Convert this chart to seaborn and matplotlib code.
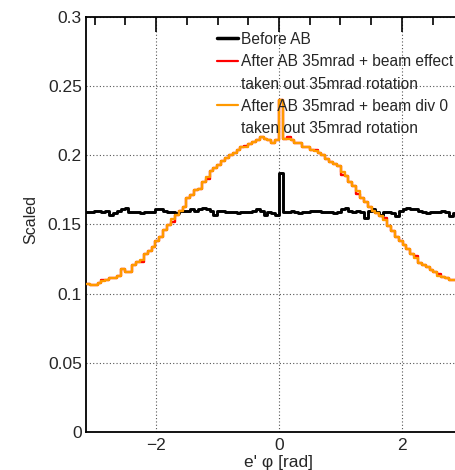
import numpy as np
import pandas as pd
import matplotlib
matplotlib.use("Agg")
import matplotlib.pyplot as plt
from matplotlib.lines import Line2D
from matplotlib.ticker import MultipleLocator, FuncFormatter
import seaborn as sns

# ---------------- data (100 bins from -pi to pi) ----------------
n_bins = 100
before_ab = [
    0.159, 0.159, 0.160, 0.160, 0.159, 0.160, 0.157, 0.158, 0.160, 0.161,
    0.162, 0.159, 0.159, 0.159, 0.158, 0.159, 0.159, 0.159, 0.161, 0.161,
    0.160, 0.159, 0.159, 0.158, 0.160, 0.160, 0.160, 0.161, 0.160, 0.161,
    0.162, 0.161, 0.160, 0.157, 0.160, 0.160, 0.159, 0.159, 0.159, 0.158,
    0.159, 0.159, 0.159, 0.160, 0.161, 0.160, 0.157, 0.159, 0.158, 0.157,
    0.187, 0.159, 0.159, 0.160, 0.159, 0.158, 0.159, 0.159, 0.160, 0.160,
    0.160, 0.159, 0.159, 0.159, 0.158, 0.159, 0.161, 0.162, 0.160, 0.159,
    0.160, 0.159, 0.155, 0.160, 0.161, 0.159, 0.157, 0.159, 0.159, 0.158,
    0.156, 0.160, 0.161, 0.162, 0.161, 0.161, 0.160, 0.159, 0.158, 0.159,
    0.159, 0.159, 0.160, 0.159, 0.156, 0.158, 0.159, 0.160, 0.158, 0.159,
]
after_beam_effect = [
    0.107, 0.106, 0.106, 0.108, 0.110, 0.110, 0.111, 0.111, 0.113, 0.118,
    0.116, 0.116, 0.121, 0.123, 0.123, 0.129, 0.131, 0.134, 0.138, 0.141,
    0.146, 0.150, 0.152, 0.157, 0.160, 0.163, 0.169, 0.171, 0.175, 0.176,
    0.181, 0.183, 0.189, 0.191, 0.193, 0.196, 0.198, 0.200, 0.202, 0.204,
    0.206, 0.207, 0.208, 0.210, 0.211, 0.213, 0.212, 0.211, 0.209, 0.211,
    0.240, 0.212, 0.213, 0.211, 0.209, 0.209, 0.206, 0.206, 0.204, 0.204,
    0.202, 0.200, 0.197, 0.195, 0.194, 0.192, 0.186, 0.185, 0.181, 0.178,
    0.172, 0.169, 0.166, 0.163, 0.160, 0.158, 0.156, 0.155, 0.149, 0.145,
    0.141, 0.138, 0.135, 0.132, 0.129, 0.127, 0.122, 0.121, 0.119, 0.117,
    0.116, 0.114, 0.112, 0.111, 0.110, 0.110, 0.109, 0.108, 0.108, 0.107,
]
after_beam_div0 = [
    0.107, 0.106, 0.106, 0.108, 0.109, 0.110, 0.111, 0.111, 0.113, 0.118,
    0.116, 0.116, 0.121, 0.123, 0.124, 0.129, 0.131, 0.134, 0.138, 0.141,
    0.146, 0.150, 0.154, 0.157, 0.160, 0.163, 0.169, 0.171, 0.175, 0.176,
    0.181, 0.184, 0.189, 0.191, 0.193, 0.196, 0.198, 0.200, 0.202, 0.204,
    0.206, 0.206, 0.208, 0.210, 0.211, 0.213, 0.212, 0.211, 0.209, 0.211,
    0.240, 0.212, 0.212, 0.211, 0.209, 0.209, 0.206, 0.206, 0.204, 0.203,
    0.202, 0.200, 0.197, 0.195, 0.194, 0.192, 0.188, 0.185, 0.181, 0.178,
    0.174, 0.169, 0.166, 0.163, 0.160, 0.158, 0.156, 0.153, 0.149, 0.145,
    0.141, 0.138, 0.135, 0.132, 0.129, 0.126, 0.122, 0.121, 0.119, 0.117,
    0.116, 0.113, 0.112, 0.111, 0.110, 0.110, 0.109, 0.108, 0.108, 0.107,
]
labels = [
    "Before AB",
    "After AB 35mrad + beam effect",
    "taken out 35mrad rotation",
    "After AB 35mrad + beam div 0",
    "taken out 35mrad rotation",
]
x_title = "e' \u03c6 [rad]"
y_title = "Scaled"

edges = list(np.linspace(-np.pi, np.pi, n_bins + 1))
centers = [0.5 * (edges[i] + edges[i + 1]) for i in range(n_bins)]
df = pd.DataFrame({
    "phi": np.tile(centers, 3),
    "w": np.concatenate([before_ab, after_beam_effect, after_beam_div0]),
    "series": np.repeat(["before", "effect", "div0"], n_bins),
})

# ---------------- style ----------------
sns.set_theme(style="white")
plt.rcParams["font.family"] = ["Liberation Sans", "DejaVu Sans"]

fig = plt.figure(figsize=(4.56, 4.70), dpi=100)
ax = fig.add_axes([86 / 456, 38 / 470, 386 / 456, 415 / 470])

c_black = "#000000"
c_red = "#ff0000"
c_orange = "#ff9900"

for key, col, lw, z in [("before", c_black, 2.1, 3), ("effect", c_red, 1.7, 2), ("div0", c_orange, 1.7, 3)]:
    sub = df[df["series"] == key]
    sns.histplot(data=sub, x="phi", weights="w", bins=edges, element="step",
                 fill=False, color=col, linewidth=lw, ax=ax, zorder=z)

ax.set_xlim(-np.pi, np.pi)
ax.set_ylim(0, 0.3)

# ticks, ROOT-like
ax.xaxis.set_major_locator(MultipleLocator(2))
ax.xaxis.set_minor_locator(MultipleLocator(0.5))
ax.yaxis.set_major_locator(MultipleLocator(0.05))
ax.yaxis.set_minor_locator(MultipleLocator(0.01))
ax.yaxis.set_major_formatter(FuncFormatter(lambda v, p: f"{v:g}"))
ax.xaxis.set_major_formatter(FuncFormatter(lambda v, p: f"{v:g}".replace("-", "\u2212")))
ax.tick_params(which="both", direction="in", top=True, right=True, color="black", width=1.2)
ax.tick_params(which="major", length=11, labelsize=12.5)
ax.tick_params(which="minor", length=6)
ax.tick_params(axis="y", which="major", pad=3)
ax.tick_params(axis="x", which="major", pad=4.5)
for s in ax.spines.values():
    s.set_color("black")
    s.set_linewidth(1.3)

ax.grid(True, which="major", color="#555555", linestyle=(0, (1, 2)), linewidth=0.8)
ax.set_axisbelow(True)

ax.set_xlabel(x_title, fontsize=12.5)
ax.set_ylabel(y_title, fontsize=11.5)
ax.xaxis.set_label_coords(0.5, -0.055)
ax.yaxis.set_label_coords(-0.124, 0.513)

handles = [
    Line2D([], [], color=c_black, lw=2.5),
    Line2D([], [], color=c_red, lw=1.6),
    Line2D([], [], color="none", lw=0),
    Line2D([], [], color=c_orange, lw=1.6),
    Line2D([], [], color="none", lw=0),
]
ax.legend(handles, labels, loc="upper left", bbox_to_anchor=(0.339, 0.964),
          frameon=False, fontsize=11.2, handlelength=1.35, handletextpad=0.2,
          labelspacing=0.47, borderpad=0, borderaxespad=0)

fig.savefig("out.png", dpi=100)
